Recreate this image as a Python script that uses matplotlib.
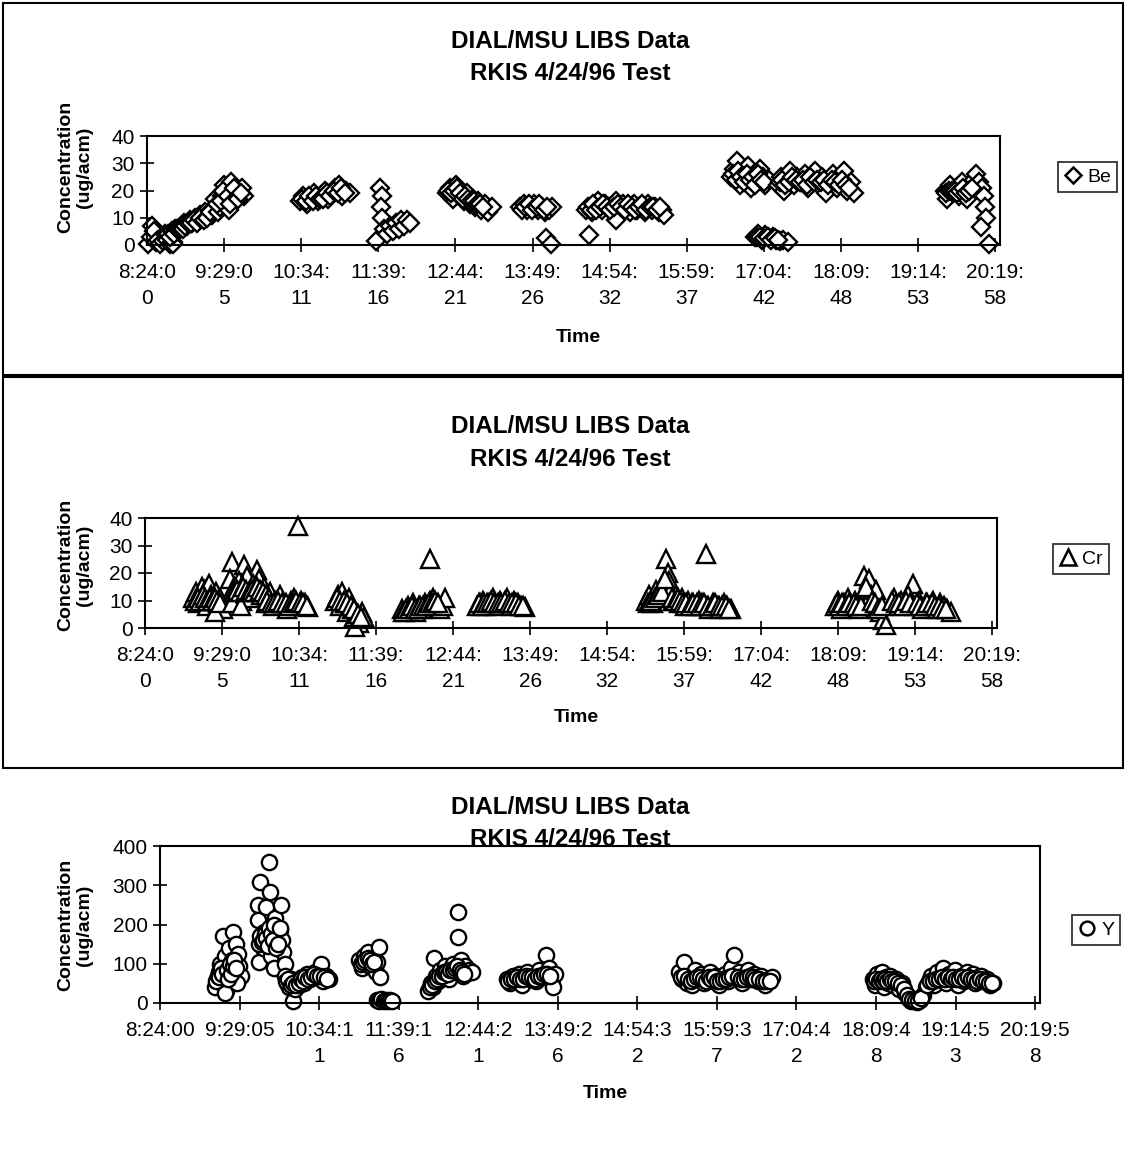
import matplotlib.pyplot as plt
from matplotlib.patches import Rectangle
from matplotlib.lines import Line2D

plt.rcParams['font.family'] = ['Liberation Sans', 'DejaVu Sans']

# time axis labels (hh:mm:ss), the x positions are the same times in hours
tick_times = ["8:24:00", "9:29:05", "10:34:11", "11:39:16", "12:44:21", "13:49:26",
              "14:54:32", "15:59:37", "17:04:42", "18:09:48", "19:14:53", "20:19:58"]

# Be (hours, ug/acm)
be_t = [8.42, 8.45, 8.47, 8.50, 8.52, 8.55, 8.58, 8.62, 8.65, 8.68, 8.72, 8.76, 8.77,
        8.70, 8.75, 8.80, 8.84, 8.88, 8.92, 8.96, 9.00, 9.04, 9.08, 9.12, 9.15, 9.18, 9.22, 9.26, 9.30, 9.32,
        8.72, 8.78, 8.82, 8.86, 8.90, 8.94, 8.98, 9.02, 9.06, 9.10, 9.14, 9.20, 9.24, 9.28,
        9.36, 9.40, 9.42, 9.45, 9.48, 9.50, 9.52, 9.55, 9.58, 9.60, 9.63, 9.66, 9.70, 9.73, 9.76,
        9.38, 9.44, 9.47, 9.54, 9.57, 9.62, 9.68, 9.72,
        10.55, 10.60, 10.65, 10.70, 10.75, 10.80, 10.85, 10.90, 10.95, 11.00, 11.05, 11.10, 11.15, 11.20, 11.25,
        10.58, 10.63, 10.68, 10.73, 10.78, 10.83, 10.88, 10.93, 10.98, 11.03, 11.08, 11.13, 11.18,
        11.68, 11.70, 11.69, 11.71, 11.62, 11.74, 11.78, 11.82, 11.86, 11.90, 11.94, 11.98, 12.02, 12.06, 12.10,
        12.62, 12.66, 12.70, 12.74, 12.78, 12.82, 12.86, 12.90, 12.94, 12.98, 13.02, 13.06, 13.10, 13.15, 13.20, 13.26,
        12.64, 12.68, 12.72, 12.76, 12.80, 12.84, 12.88, 12.92, 12.96, 13.00, 13.04, 13.08, 13.12,
        13.65, 13.70, 13.75, 13.80, 13.85, 13.90, 13.95, 14.00, 14.05, 14.10, 14.02, 14.08,
        13.68, 13.72, 13.78, 13.82, 13.88, 13.92, 13.98, 14.03,
        14.62, 14.58, 14.66, 14.70, 14.75, 14.80, 14.85, 14.90, 14.95, 15.00, 15.05, 15.10, 15.15, 15.20,
        15.25, 15.30, 15.35, 15.40, 15.45, 15.50, 15.55, 15.60, 15.65, 15.00, 15.68,
        14.60, 14.64, 14.68, 14.72, 14.77, 14.82, 14.87, 14.92, 14.97, 15.02, 15.07, 15.12, 15.17, 15.22,
        15.27, 15.32, 15.37, 15.42, 15.47, 15.52, 15.57, 15.62,
        16.62, 16.66, 16.70, 16.74, 16.78, 16.82, 16.86, 16.90, 16.94, 16.98, 17.02, 17.06, 17.10, 17.15,
        16.64, 16.68, 16.72, 16.76, 16.80, 16.84, 16.88, 16.92, 16.96, 17.00, 17.04, 17.08,
        16.95, 17.00, 17.05, 17.10, 17.15, 17.20, 17.25, 17.30, 17.35, 17.42,
        16.98, 17.03, 17.08, 17.13, 17.18, 17.23, 17.28,
        17.28, 17.32, 17.36, 17.40, 17.45, 17.50, 17.55, 17.60, 17.65, 17.70, 17.75, 17.80, 17.85, 17.90,
        17.95, 18.00, 18.05, 18.10, 18.15, 18.20, 18.25, 18.30, 18.34,
        17.30, 17.34, 17.38, 17.43, 17.48, 17.53, 17.58, 17.63, 17.68, 17.73, 17.78, 17.83, 17.88, 17.93,
        17.98, 18.03, 18.08, 18.13, 18.18, 18.23, 18.28,
        19.62, 19.66, 19.70, 19.74, 19.78, 19.82, 19.86, 19.90, 19.94, 19.98, 20.03, 20.06, 20.10, 20.14,
        19.64, 19.68, 19.72, 19.76, 19.80, 19.84, 19.88, 19.92, 19.96, 20.00,
        20.17, 20.19, 20.21, 20.13, 20.24]
be_v = [0.5, 3, 7, 5, 1, 2, 0.5, 1.5, 4, 2, 0.5, 1, 0.5,
        4, 5, 6, 5, 7, 8, 7, 9, 8, 10, 9, 11, 10, 12, 11, 13, 11,
        3, 4, 6, 6, 6, 7, 8, 8, 9, 8, 10, 9, 10, 12,
        17, 12, 14, 18, 22, 16, 19, 13, 23, 17, 19, 18, 20, 21, 18,
        15, 16, 20, 18, 15, 21, 17, 19,
        16, 18, 15, 17, 19, 16, 18, 20, 17, 19, 21, 22, 18, 20, 19,
        17, 16, 18, 16, 18, 17, 17, 19, 18, 20, 19, 21, 19,
        21, 18, 14, 10, 1.5, 6, 4, 7, 5, 8, 6, 9, 7, 9, 8,
        19, 21, 17, 22, 20, 18, 16, 19, 15, 17, 14, 16, 13, 15, 12, 14,
        20, 19, 20, 21, 19, 17, 18, 17, 16, 16, 15, 15, 14,
        14, 15, 13, 14, 15, 13, 14, 12, 13, 14, 2.5, 0.5,
        13, 14, 15, 13, 14, 15, 13, 14,
        3.5, 13, 12, 14, 16, 13, 15, 14, 12, 16, 13, 15, 14, 12,
        15, 13, 14, 12, 15, 13, 14, 12, 13, 9, 11,
        14, 13, 15, 13, 14, 15, 14, 13, 14, 15, 14, 13, 15, 14,
        13, 14, 15, 13, 14, 14, 13, 14,
        25, 28, 31, 22, 27, 24, 29, 21, 26, 23, 28, 25, 22, 24,
        26, 24, 27, 25, 23, 26, 24, 25, 22, 26, 24, 23,
        3, 4, 2, 3.5, 2.5, 3, 2, 1.5, 2, 1,
        3, 3, 2.5, 3, 2, 2.5, 2,
        22, 25, 20, 24, 27, 22, 25, 23, 26, 21, 24, 27, 22, 25,
        19, 23, 26, 21, 24, 27, 20, 23, 19,
        23, 24, 22, 23, 25, 24, 23, 24, 22, 25, 23, 24, 23, 24,
        22, 24, 23, 22, 24, 22, 21,
        20, 17, 22, 19, 21, 18, 23, 20, 17, 22, 24, 26, 23, 21,
        19, 20, 20, 20, 19, 20, 21, 19, 20, 21,
        18, 14, 10, 6.5, 0.5]

# Cr (hours, ug/acm)
cr_t = [9.08, 9.12, 9.15, 9.18, 9.20, 9.22, 9.25, 9.28, 9.30, 9.33, 9.36, 9.40, 9.43, 9.46, 9.50, 9.38,
        9.10, 9.14, 9.17, 9.21, 9.24, 9.27, 9.31, 9.35, 9.39, 9.42, 9.45,
        9.62, 9.80, 9.98, 9.60, 9.65, 9.70, 9.72, 9.76, 9.80, 9.84, 9.88, 9.92, 9.96, 10.00, 10.04, 10.08,
        10.12, 10.16, 9.62, 9.75,
        9.66, 9.69, 9.74, 9.78, 9.82, 9.86, 9.90, 9.94, 9.98, 10.02, 10.06, 10.10, 10.14,
        10.10, 10.15, 10.20, 10.25, 10.30, 10.35, 10.40, 10.45, 10.50, 10.55, 10.60, 10.65, 10.70, 10.56,
        10.12, 10.18, 10.22, 10.28, 10.33, 10.38, 10.43, 10.48, 10.53, 10.58, 10.63, 10.68,
        11.08, 11.12, 11.15, 11.18, 11.22, 11.25, 11.28, 11.32, 11.35, 11.38, 11.42, 11.45, 11.48, 11.36,
        11.10, 11.14, 11.20, 11.24, 11.30, 11.34, 11.40, 11.44,
        12.02, 12.06, 12.10, 12.14, 12.18, 12.22, 12.26, 12.30, 12.34, 12.38, 12.42, 12.46, 12.50, 12.55,
        12.60, 12.62, 12.41,
        12.04, 12.08, 12.12, 12.16, 12.20, 12.24, 12.28, 12.32, 12.36, 12.40, 12.44, 12.48, 12.52,
        13.08, 13.12, 13.16, 13.20, 13.25, 13.30, 13.35, 13.40, 13.45, 13.50, 13.55, 13.60, 13.65, 13.70, 13.75,
        13.10, 13.14, 13.18, 13.22, 13.27, 13.32, 13.37, 13.42, 13.47, 13.52, 13.57, 13.62, 13.67, 13.72,
        15.45, 15.50, 15.55, 15.60, 15.65, 15.70, 15.74, 15.76, 15.78, 15.80, 15.84, 15.88, 15.92, 15.96,
        16.00, 16.05, 16.10, 16.15, 16.20, 16.25, 16.30, 16.35, 16.40, 16.45, 16.50, 16.55, 16.60, 16.65, 16.30,
        15.48, 15.52, 15.58, 15.62, 15.68, 15.72, 15.82, 15.86, 15.90, 15.94, 15.98, 16.02, 16.08, 16.12,
        16.18, 16.22, 16.28, 16.33, 16.38, 16.43, 16.48, 16.53, 16.58, 16.62,
        18.12, 18.16, 18.20, 18.25, 18.30, 18.35, 18.40, 18.45, 18.50, 18.52, 18.60, 18.62, 18.66, 18.70,
        18.75, 18.80, 18.84, 18.90, 18.95, 19.00, 19.05, 19.22, 19.15, 19.20, 19.25, 19.30, 19.35, 19.40,
        19.45, 19.50, 19.55, 19.60, 19.65, 19.70, 19.75,
        18.14, 18.18, 18.22, 18.28, 18.32, 18.38, 18.42, 18.48, 18.56, 18.64, 18.68, 18.72, 18.78, 18.92,
        18.98, 19.02, 19.08, 19.12, 19.18, 19.28, 19.32, 19.38, 19.42, 19.48, 19.52, 19.58, 19.62, 19.68]
cr_v = [11, 13, 9, 12, 15, 10, 14, 8, 16, 12, 10, 13, 9, 11, 7, 6,
        10, 11, 10, 12, 11, 10, 11, 10, 11, 10, 9,
        24, 23, 21, 18, 15, 12, 17, 10, 14, 19, 11, 16, 13, 18, 12, 15,
        10, 13, 9, 8,
        13, 14, 13, 15, 14, 13, 14, 13, 15, 14, 13, 12, 11,
        9, 11, 8, 10, 12, 9, 7, 10, 11, 8, 10, 9, 7.5, 37,
        10, 9, 9, 10, 9, 9, 8, 9, 10, 9, 9, 8,
        10, 12, 8, 13, 9, 6, 11, 7, 4, 5, 2, 6, 4, 0.5,
        11, 10, 10, 9, 8, 7, 5, 4,
        7, 6, 8, 7, 9, 6, 8, 7, 9, 8, 10, 11, 9, 7,
        8, 11, 25,
        6, 7, 7, 8, 7, 7, 8, 8, 8, 9, 9, 10, 9,
        8, 9, 10, 8, 9, 11, 8, 10, 9, 11, 8, 10, 9, 8, 7.5,
        9, 8, 9, 9, 10, 9, 9, 9, 10, 9, 9, 9, 8, 8,
        10, 12, 9, 14, 11, 16, 25, 20, 17, 13, 10, 12, 9, 11,
        8, 10, 9, 8, 10, 9, 8, 7, 9, 8, 7, 9, 8, 7, 27,
        9, 10, 11, 12, 13, 18, 11, 10, 11, 10, 9, 9, 8, 9,
        9, 8, 9, 8, 8, 9, 8, 8, 8, 7,
        8, 10, 7, 9, 11, 8, 10, 7, 9, 19, 18, 12, 8, 14,
        6, 3, 1, 9, 11, 8, 10, 16, 12, 9, 8, 10, 7, 9,
        8, 10, 7, 9, 8, 7, 6,
        9, 8, 9, 8, 9, 9, 8, 8, 15, 10, 9, 7, 8, 10,
        9, 9, 8, 10, 9, 9, 8, 8, 9, 9, 8, 8, 7, 7]

# Y (hours, ug/acm)
y_t = [9.15, 9.18, 9.20, 9.22, 9.24, 9.26, 9.27, 9.29, 9.30, 9.32, 9.34, 9.36, 9.38, 9.40, 9.42, 9.44,
       9.46, 9.48, 9.50, 9.45, 9.28,
       9.16, 9.19, 9.21, 9.23, 9.25, 9.31, 9.33, 9.35, 9.37, 9.39, 9.41, 9.43,
       9.73, 9.74, 9.76, 9.78, 9.75, 9.80, 9.82, 9.84, 9.86, 9.88, 9.90, 9.92, 9.93, 9.95, 9.97, 10.00,
       10.03, 10.05, 10.07, 10.08, 10.10,
       9.75, 9.77, 9.79, 9.81, 9.83, 9.85, 9.87, 9.89, 9.91, 9.94, 9.96, 9.98, 10.01, 10.04,
       10.10, 10.13, 10.16, 10.19, 10.22, 10.24, 10.27, 10.30, 10.33, 10.36, 10.40, 10.44, 10.48, 10.52,
       10.56, 10.59, 10.62, 10.66, 10.70,
       10.12, 10.15, 10.18, 10.21, 10.26, 10.29, 10.32, 10.35, 10.38, 10.42, 10.46, 10.50, 10.54, 10.58,
       10.64, 10.68,
       11.12, 11.15, 11.18, 11.21, 11.24, 11.27, 11.30, 11.34, 11.38, 11.40, 11.36,
       11.14, 11.17, 11.20, 11.23, 11.26, 11.29, 11.32,
       11.36, 11.39, 11.42, 11.45, 11.48, 11.51, 11.54, 11.57,
       12.06, 12.09, 12.12, 12.13, 12.16, 12.19, 12.22, 12.25, 12.28, 12.31, 12.34, 12.37, 12.40, 12.43,
       12.47, 12.47, 12.50, 12.53, 12.56, 12.59, 12.62, 12.65,
       12.08, 12.11, 12.15, 12.18, 12.21, 12.24, 12.27, 12.30, 12.33, 12.36, 12.39, 12.42, 12.45, 12.49,
       12.52, 12.55,
       13.13, 13.17, 13.21, 13.25, 13.29, 13.33, 13.37, 13.41, 13.45, 13.49, 13.53, 13.57, 13.61, 13.66,
       13.70, 13.74, 13.78, 13.76,
       13.15, 13.19, 13.23, 13.27, 13.31, 13.35, 13.39, 13.43, 13.47, 13.51, 13.55, 13.59, 13.63, 13.68,
       13.72,
       15.48, 15.52, 15.55, 15.58, 15.62, 15.66, 15.70, 15.74, 15.78, 15.82, 15.86, 15.90, 15.94, 15.98,
       16.02, 16.06, 16.10, 16.14, 16.18, 16.23, 16.26, 16.30, 16.34, 16.38, 16.42, 16.46, 16.50, 16.55,
       16.60, 16.65, 16.70, 16.74,
       15.50, 15.54, 15.60, 15.64, 15.68, 15.72, 15.76, 15.80, 15.84, 15.88, 15.92, 15.96, 16.00, 16.04,
       16.08, 16.12, 16.16, 16.20, 16.28, 16.32, 16.36, 16.40, 16.44, 16.48, 16.52, 16.57, 16.62, 16.67,
       16.72,
       18.12, 18.15, 18.18, 18.21, 18.24, 18.27, 18.30, 18.33, 18.36, 18.40, 18.44, 18.48, 18.52, 18.56,
       18.60, 18.64, 18.68, 18.72, 18.76, 18.80, 18.84, 18.88, 18.92, 18.96, 19.00, 19.04, 19.08, 19.12,
       19.16, 19.20, 19.24, 19.28, 19.32, 19.36, 19.40, 19.44, 19.48, 19.52, 19.56, 19.60, 19.64, 19.68,
       19.72, 19.76,
       18.14, 18.17, 18.20, 18.23, 18.26, 18.29, 18.32, 18.35, 18.38, 18.42, 18.46, 18.50, 18.54, 18.58,
       18.62, 18.66, 18.70, 18.74, 18.78, 18.86, 18.90, 18.94, 18.98, 19.02, 19.06, 19.10, 19.14, 19.18,
       19.22, 19.26, 19.30, 19.34, 19.38, 19.42, 19.46, 19.50, 19.54, 19.58, 19.62, 19.66, 19.70, 19.74]
y_v = [40, 60, 80, 100, 50, 170, 70, 120, 30, 90, 140, 60, 110, 180, 80, 150,
       125, 95, 70, 50, 25,
       55, 70, 65, 90, 75, 85, 60, 100, 75, 95, 110, 90,
       250, 212, 308, 160, 105, 140, 180, 245, 150, 360, 283, 120, 200, 89, 216, 170,
       186, 250, 160, 130, 100,
       150, 170, 155, 160, 175, 165, 145, 190, 175, 160, 200, 140, 150, 190,
       70, 50, 40, 60, 5, 35, 55, 45, 65, 50, 75, 60, 70, 80,
       65, 100, 55, 70, 60,
       55, 60, 45, 50, 45, 50, 60, 55, 65, 60, 65, 75, 70, 70,
       65, 60,
       110, 90, 120, 100, 130, 95, 115, 80, 143, 66, 105,
       100, 105, 110, 115, 110, 100, 105,
       8, 5, 10, 6, 8, 4, 7, 5,
       30, 50, 40, 115, 70, 55, 85, 65, 95, 75, 60, 90, 100, 80,
       232, 168, 110, 70, 95, 76, 85, 80,
       40, 45, 55, 60, 70, 70, 80, 80, 75, 85, 85, 90, 95, 85,
       80, 75,
       60, 50, 70, 55, 75, 45, 65, 80, 60, 70, 55, 85, 65, 122,
       90, 60, 75, 40,
       55, 60, 60, 65, 60, 60, 70, 65, 65, 60, 70, 70, 75, 75,
       70,
       80, 60, 105, 50, 70, 45, 85, 60, 75, 50, 65, 80, 55, 70,
       45, 60, 75, 55, 90, 122, 65, 80, 50, 70, 85, 60, 75, 55,
       70, 45, 60, 65,
       65, 70, 60, 55, 60, 65, 65, 60, 55, 65, 60, 65, 55, 55,
       60, 60, 65, 70, 65, 60, 60, 65, 70, 65, 60, 60, 55, 55,
       55,
       60, 45, 75, 55, 80, 40, 65, 50, 70, 45, 60, 35, 50, 25,
       15, 5, 10, 3, 8, 20, 40, 55, 70, 45, 80, 60, 90, 50,
       75, 65, 85, 45, 70, 55, 80, 60, 75, 50, 65, 70, 55, 60,
       45, 50,
       55, 60, 55, 60, 55, 60, 55, 60, 55, 55, 50, 45, 35, 20,
       10, 8, 5, 6, 12, 45, 55, 55, 60, 60, 65, 60, 65, 60,
       65, 60, 60, 65, 60, 65, 60, 60, 55, 60, 55, 55, 50, 50]


def to_hours(s):
    h, m, sec = s.split(':')
    return int(h) + int(m) / 60 + int(sec) / 3600


tick_pos = [to_hours(s) for s in tick_times]

fig = plt.figure(figsize=(11.25, 11.55), dpi=100)

# panel borders (the charts were pasted as boxes)
fig.add_artist(Rectangle((3 / 1125, 1 - 375 / 1155), 1120 / 1125, 372 / 1155,
                         transform=fig.transFigure, fill=False, lw=1.5, ec='black'))
fig.add_artist(Rectangle((3 / 1125, 1 - 768 / 1155), 1120 / 1125, 391 / 1155,
                         transform=fig.transFigure, fill=False, lw=1.5, ec='black'))


def wrap(s, n):
    if len(s) <= n:
        return s
    return s[:n] + '\n' + s[n:]


panels = [
    dict(px=(147, 136, 1000, 245), t=be_t, v=be_v, m='D', ms=9.5, ymax=40, ystep=10, wrapn=6, name='Be',
         title_y=(42, 73), time_y=338, ylab=(75, 167), leg=(1058, 177)),
    dict(px=(145, 518, 997, 628), t=cr_t, v=cr_v, m='^', ms=12.5, ymax=40, ystep=10, wrapn=6, name='Cr',
         title_y=(427, 459), time_y=718, ylab=(75, 565), leg=(1053, 559)),
    dict(px=(160, 846, 1040, 1003), t=y_t, v=y_v, m='o', ms=11, ymax=400, ystep=100, wrapn=7, name='Y',
         title_y=(807, 839), time_y=1094, ylab=(75, 925), leg=(1072, 930)),
]

W, H = 1125, 1155
for p in panels:
    l, t, r, b = p['px']
    ax = fig.add_axes([l / W, 1 - b / H, (r - l) / W, (b - t) / H])
    ax.plot(p['t'], p['v'], linestyle='none', marker=p['m'], ms=p['ms'],
            mfc='white', mec='black', mew=1.7, clip_on=False)
    ax.set_xlim(8.4, 20.4)
    ax.set_ylim(0, p['ymax'])
    ax.set_yticks(range(0, p['ymax'] + 1, p['ystep']))
    ax.set_xticks(tick_pos)
    ax.set_xticklabels([wrap(s, p['wrapn']) for s in tick_times], linespacing=1.45)
    ax.tick_params(direction='inout', length=10, width=1.2, labelsize=15, pad=4)
    ax.tick_params(axis='x', pad=8)
    for sp in ax.spines.values():
        sp.set_linewidth(1.5)

    cx = 570 / W
    fig.text(cx, 1 - p['title_y'][0] / H, 'DIAL/MSU LIBS Data', ha='center', va='center',
             fontsize=17.5, fontweight='bold')
    fig.text(cx, 1 - p['title_y'][1] / H, 'RKIS 4/24/96 Test', ha='center', va='center',
             fontsize=17.5, fontweight='bold')
    fig.text(((l + r) / 2 + 5) / W, 1 - p['time_y'] / H, 'Time', ha='center', va='center',
             fontsize=14, fontweight='bold')
    fig.text(p['ylab'][0] / W, 1 - p['ylab'][1] / H, 'Concentration\n(ug/acm)', ha='center', va='center',
             rotation=90, fontsize=14, fontweight='bold', linespacing=1.1)

    handle = Line2D([], [], linestyle='none', marker=p['m'], ms=p['ms'] * 0.9,
                    mfc='white', mec='black', mew=1.8)
    lg = ax.legend([handle], [p['name']], loc='center left',
                   bbox_to_anchor=(p['leg'][0] / W, 1 - p['leg'][1] / H),
                   bbox_transform=fig.transFigure, fontsize=14, frameon=True, fancybox=False,
                   handlelength=0.9, handletextpad=0.3, borderpad=0.3, borderaxespad=0)
    lg.get_frame().set_edgecolor('black')
    lg.get_frame().set_linewidth(1.3)

fig.savefig('out.png', dpi=100, facecolor='white')
